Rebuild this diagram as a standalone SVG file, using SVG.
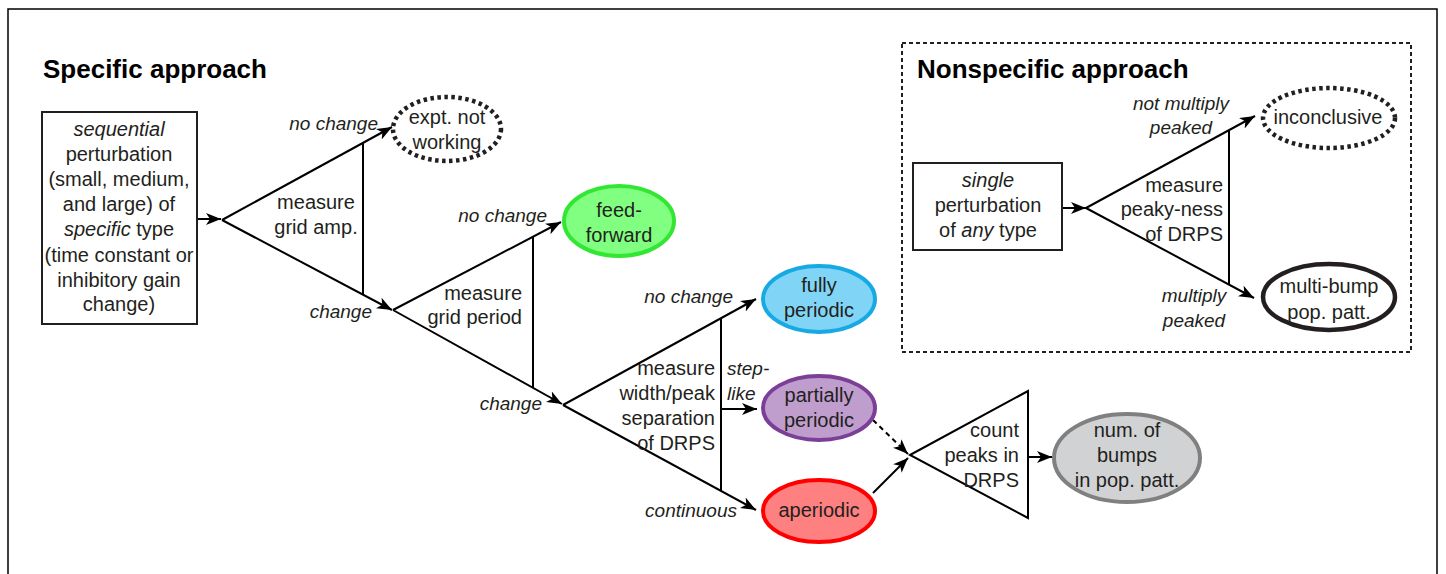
<svg xmlns="http://www.w3.org/2000/svg" width="1446" height="574" viewBox="0 0 1446 574">
<defs>
<marker id="ah" markerUnits="userSpaceOnUse" markerWidth="16" markerHeight="14" refX="15" refY="6" orient="auto">
<path d="M0,0 L15,6 L0,12 L4,6 Z" fill="#000"/>
</marker>
</defs>
<style>
text{font-family:"Liberation Sans",Arial,sans-serif;font-size:20px;fill:#231f20}
.t{font-weight:bold;font-size:26px;fill:#000}
.l{font-style:italic;font-size:19px}
.m{text-anchor:middle}
.e{text-anchor:end}
.ln{stroke:#000;stroke-width:2;fill:none}
.ar{stroke:#000;stroke-width:2;fill:none;marker-end:url(#ah)}
.box{fill:#fff;stroke:#231f20;stroke-width:2}
.dot{fill:#fff;stroke:#231f20;stroke-width:4.5;stroke-dasharray:3.5 3.5}
</style>
<rect width="1446" height="574" fill="#fff"/>
<path d="M8,580 V9 H1437 V580" fill="none" stroke="#000" stroke-width="1.5"/>

<g id="titles">
<text class="t" x="43" y="78">Specific approach</text>
</g>

<g id="connectors">
<path class="ar" d="M197,219 H221"/>
<path class="ar" d="M222,220 L392,127"/>
<path class="ar" d="M222,220 L392,310"/>
<path class="ln" d="M363,143 V295"/>
<path class="ar" d="M393,310 L561,222"/>
<path class="ar" d="M393,310 L562,404"/>
<path class="ln" d="M533,236 V388"/>
<path class="ar" d="M563,405 L756,299"/>
<path class="ar" d="M563,405 L756,510"/>
<path class="ln" d="M721,319 V491"/>
<path class="ar" d="M721,409 H757"/>
<path class="ar" d="M873,420 L908,454" stroke-dasharray="5 4"/>
<path class="ar" d="M873,493 L908,458"/>
<path class="ar" d="M1028,457 H1052"/>
<path class="ar" d="M1062,208 H1086"/>
<path class="ar" d="M1086,208 L1255,116"/>
<path class="ar" d="M1086,208 L1254,298"/>
<path class="ln" d="M1229,131 V285"/>
</g>

<g id="labels">
<text class="l e" x="378" y="130">no change</text>
<text class="l e" x="372" y="318">change</text>
<text class="l e" x="547" y="222">no change</text>
<text class="l e" x="542" y="410">change</text>
<text class="l e" x="733" y="303">no change</text>
<text class="l" x="727" y="375">step-</text>
<text class="l" x="727" y="400">like</text>
<text class="l e" x="737" y="517">continuous</text>
<text class="l m" x="1181" y="110">not multiply</text>
<text class="l m" x="1181" y="134">peaked</text>
<text class="l m" x="1194" y="302">multiply</text>
<text class="l m" x="1194" y="327">peaked</text>
</g>

<g id="start-specific">
<rect class="box" x="42" y="112" width="155" height="212"/>
<text class="m" x="119" y="136"><tspan font-style="italic">sequential</tspan></text>
<text class="m" x="119" y="161">perturbation</text>
<text class="m" x="119" y="186">(small, medium,</text>
<text class="m" x="119" y="211">and large) of</text>
<text class="m" x="119" y="236"><tspan font-style="italic">specific</tspan> type</text>
<text class="m" x="119" y="262">(time constant or</text>
<text class="m" x="119" y="287">inhibitory gain</text>
<text class="m" x="119" y="311">change)</text>
</g>

<g id="measure-amp">
<text class="m" x="316" y="209">measure</text>
<text class="m" x="316" y="234">grid amp.</text>
</g>

<g id="expt-not-working">
<ellipse class="dot" cx="447" cy="129" rx="54" ry="32"/>
<text class="m" x="447" y="124">expt. not</text>
<text class="m" x="447" y="149">working</text>
</g>

<g id="measure-period">
<text class="e" x="522" y="300">measure</text>
<text class="e" x="522" y="324">grid period</text>
</g>

<g id="feed-forward">
<ellipse cx="619" cy="221" rx="55" ry="35" fill="#80ff80" stroke="#33e633" stroke-width="4"/>
<text class="m" x="619" y="217">feed-</text>
<text class="m" x="619" y="242">forward</text>
</g>

<g id="measure-width">
<text class="e" x="715" y="375">measure</text>
<text class="e" x="715" y="400">width/peak</text>
<text class="e" x="715" y="425">separation</text>
<text class="e" x="715" y="450">of DRPS</text>
</g>

<g id="fully-periodic">
<ellipse cx="819" cy="299" rx="56" ry="33" fill="#80d4f6" stroke="#17a9e3" stroke-width="4"/>
<text class="m" x="819" y="292">fully</text>
<text class="m" x="819" y="317">periodic</text>
</g>

<g id="partially-periodic">
<ellipse cx="819" cy="408" rx="56" ry="32" fill="#bf9dcd" stroke="#7b3f98" stroke-width="4"/>
<text class="m" x="819" y="402">partially</text>
<text class="m" x="819" y="427">periodic</text>
</g>

<g id="aperiodic">
<ellipse cx="819" cy="511" rx="56" ry="31" fill="#ff8080" stroke="#ff0000" stroke-width="4"/>
<text class="m" x="819" y="517">aperiodic</text>
</g>

<g id="count-peaks">
<polygon points="910,455 1028,391 1028,518" fill="none" stroke="#000" stroke-width="2"/>
<text class="e" x="1019" y="437">count</text>
<text class="e" x="1019" y="462">peaks in</text>
<text class="e" x="1019" y="487">DRPS</text>
</g>

<g id="num-bumps">
<ellipse cx="1127" cy="458" rx="73" ry="44" fill="#d1d2d4" stroke="#808080" stroke-width="4"/>
<text class="m" x="1127" y="437">num. of</text>
<text class="m" x="1127" y="462">bumps</text>
<text class="m" x="1127" y="487">in pop. patt.</text>
</g>

<g id="nonspecific-frame">
<rect x="902" y="43" width="509" height="309" fill="none" stroke="#231f20" stroke-width="2" stroke-dasharray="4 3"/>
<text class="t" x="917" y="78">Nonspecific approach</text>
</g>

<g id="start-nonspecific">
<rect class="box" x="913" y="163" width="149" height="87"/>
<text class="m" x="988" y="187"><tspan font-style="italic">single</tspan></text>
<text class="m" x="988" y="212">perturbation</text>
<text class="m" x="988" y="237">of <tspan font-style="italic">any</tspan> type</text>
</g>

<g id="measure-peaky">
<text class="e" x="1223" y="192">measure</text>
<text class="e" x="1223" y="216">peaky-ness</text>
<text class="e" x="1223" y="241">of DRPS</text>
</g>

<g id="inconclusive">
<ellipse class="dot" cx="1329" cy="118" rx="66" ry="30"/>
<text class="m" x="1328" y="124">inconclusive</text>
</g>

<g id="multi-bump">
<ellipse cx="1329" cy="297" rx="66" ry="33" fill="#fff" stroke="#231f20" stroke-width="4.5"/>
<text class="m" x="1329" y="293">multi-bump</text>
<text class="m" x="1329" y="319">pop. patt.</text>
</g>
</svg>
